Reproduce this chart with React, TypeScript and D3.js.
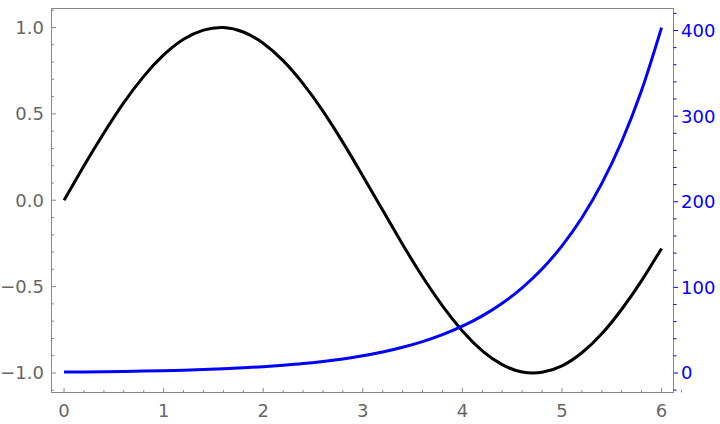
import React from "react";
import * as d3 from "d3";

const xs = [0, 0.2, 0.4, 0.6, 0.8, 1.0, 1.2, 1.4, 1.6, 1.8, 2.0, 2.2, 2.4, 2.6, 2.8, 3.0, 3.2, 3.4, 3.6, 3.8, 4.0, 4.2, 4.4, 4.6, 4.8, 5.0, 5.2, 5.4, 5.6, 5.8, 6.0];
const blackSeries = [0, 0.199, 0.389, 0.565, 0.717, 0.841, 0.932, 0.985, 1.0, 0.974, 0.909, 0.808, 0.675, 0.516, 0.335, 0.141, -0.058, -0.256, -0.443, -0.612, -0.757, -0.872, -0.952, -0.994, -0.996, -0.959, -0.883, -0.773, -0.631, -0.465, -0.279];
const blueSeries = [1, 1.22, 1.49, 1.82, 2.23, 2.72, 3.32, 4.06, 4.95, 6.05, 7.39, 9.03, 11.0, 13.5, 16.4, 20.1, 24.5, 30.0, 36.6, 44.7, 54.6, 66.7, 81.5, 99.5, 121.5, 148.4, 181.3, 221.4, 270.4, 330.3, 403.4];

const xTicks = [0, 1, 2, 3, 4, 5, 6];
const leftTicks = [-1.0, -0.5, 0.0, 0.5, 1.0];
const rightTicks = [0, 100, 200, 300, 400];

const W = 720, H = 424;
const L = 51.5, R = 673.5, T = 8.5, B = 392.5;
const FONT = "DejaVu Sans, sans-serif";
const GRAY = "#666666";
const FRAME = "#888888";
const BLUE = "#0000ff";

export default function App() {
  const x = d3.scaleLinear().domain([-0.126, 6.12]).range([L, R]);
  const yL = d3.scaleLinear().domain([-1.113, 1.11]).range([B, T]);
  const yR = d3.scaleLinear().domain([-22.8, 425.7]).range([B, T]);

  const blackLine = d3.line<number>().x((_, i) => x(xs[i])).y((d) => yL(d)).curve(d3.curveNatural);
  const blueLine = d3.line<number>().x((_, i) => x(xs[i])).y((d) => yR(d)).curve(d3.curveMonotoneX);

  const xMinor = d3.range(0, 6.2001, 0.2).map((v) => +v.toFixed(2)).filter((v) => Math.abs(v - Math.round(v)) > 1e-6);
  const leftMinor = d3.range(-1.1, 1.1001, 0.1).map((v) => +v.toFixed(2)).filter((v) => Math.abs(v * 2 - Math.round(v * 2)) > 1e-6 && yL(v) >= T && yL(v) <= B);
  const rightMinor = d3.range(-20, 421, 20).filter((v) => v % 100 !== 0 && yR(v) >= T - 0.5 && yR(v) <= B + 0.5);

  const fmt = (v: number) => (v < 0 ? "\u2212" + Math.abs(v).toFixed(1) : v.toFixed(1));

  return (
    <svg width={W} height={H} style={{ position: "absolute", left: 0, top: 0, display: "block" }} fontFamily={FONT}>
      <rect x={0} y={0} width={W} height={H} fill="#fff" />
      <rect x={L} y={T} width={R - L} height={B - T} fill="none" stroke={FRAME} strokeWidth={1} />
      {xTicks.map((t) => (
        <line key={"xt" + t} x1={x(t)} x2={x(t)} y1={B} y2={B - 4.5} stroke={FRAME} strokeWidth={1} />
      ))}
      {xMinor.map((t) => (
        <line key={"xm" + t} x1={x(t)} x2={x(t)} y1={B} y2={B - 2.5} stroke={FRAME} strokeWidth={1} />
      ))}
      {xTicks.map((t) => (
        <text key={"xl" + t} x={x(t)} y={417} textAnchor="middle" fontSize={18} fill={GRAY}>{t}</text>
      ))}
      {leftTicks.map((t) => (
        <line key={"lt" + t} x1={L} x2={L + 4.5} y1={yL(t)} y2={yL(t)} stroke={FRAME} strokeWidth={1} />
      ))}
      {leftMinor.map((t) => (
        <line key={"lm" + t} x1={L} x2={L + 2.5} y1={yL(t)} y2={yL(t)} stroke={FRAME} strokeWidth={1} />
      ))}
      {leftTicks.map((t) => (
        <text key={"ll" + t} x={44} y={yL(t)} dy="0.36em" textAnchor="end" fontSize={18} fill={GRAY}>{fmt(t)}</text>
      ))}
      {rightTicks.map((t) => (
        <line key={"rt" + t} x1={R} x2={R + 4.5} y1={yR(t)} y2={yR(t)} stroke={BLUE} strokeWidth={1} />
      ))}
      {rightMinor.map((t) => (
        <line key={"rm" + t} x1={R} x2={R + 3} y1={yR(t)} y2={yR(t)} stroke={BLUE} strokeWidth={1} />
      ))}
      {rightTicks.map((t) => (
        <text key={"rl" + t} x={681} y={yR(t)} dy="0.36em" textAnchor="start" fontSize={18} fill={BLUE}>{t}</text>
      ))}
      <path d={blackLine(blackSeries) || ""} fill="none" stroke="#000" strokeWidth={3} />
      <path d={blueLine(blueSeries) || ""} fill="none" stroke={BLUE} strokeWidth={3} />
    </svg>
  );
}
